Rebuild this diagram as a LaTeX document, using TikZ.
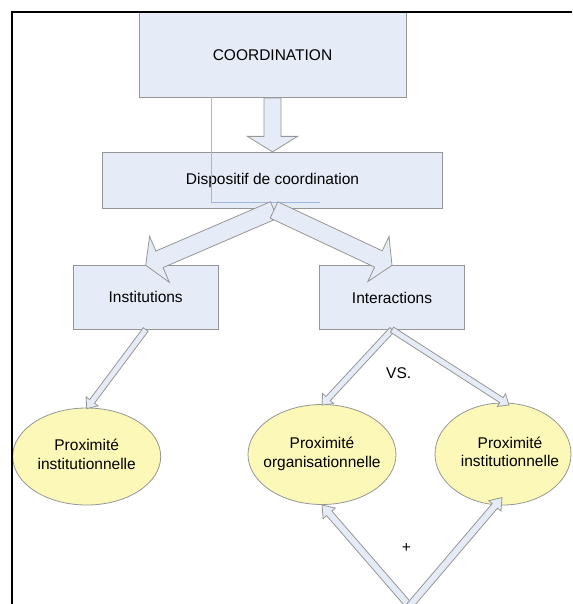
\documentclass[tikz,border=0pt]{standalone}
\usepackage{fontspec}
\setmainfont{Liberation Sans}
\usetikzlibrary{calc,shapes.geometric}
\definecolor{boxfill}{RGB}{230,236,247}
\definecolor{boxline}{RGB}{150,150,150}
\definecolor{ellfill}{RGB}{251,248,184}
\definecolor{thinblue}{RGB}{160,182,226}
% block arrow: #1 tail, #2 tip, #3 shaft half width, #4 head half width, #5 head length
\newcommand{\blockarr}[5]{%
  \coordinate (ba-h) at ($(#2)!#5!(#1)$);
  \path[blockarrow] ($(#1)!#3!90:(#2)$) -- ($(ba-h)!#3!90:(#2)$) -- ($(ba-h)!#4!90:(#2)$) -- (#2)
     -- ($(ba-h)!#4!-90:(#2)$) -- ($(ba-h)!#3!-90:(#2)$) -- ($(#1)!#3!-90:(#2)$) -- cycle;}
\newcommand{\twolines}[3][0pt]{\makebox[0pt]{\hspace*{#1}\begin{tabular}{@{}c@{}}#2\\#3\end{tabular}}}
\begin{document}
\begin{tikzpicture}[x=1pt,y=-1pt,
  font=\fontsize{15.5}{18.5}\selectfont,
  boxnode/.style={rectangle, draw=boxline, fill=boxfill, line width=0.8pt, inner sep=0pt},
  ellnode/.style={ellipse, draw=boxline, fill=ellfill, line width=0.8pt, inner sep=0pt,
                  minimum width=148pt, minimum height=100pt},
  blockarrow/.style={draw=boxline, fill=boxfill, line width=0.8pt, line join=miter},
  textlabel/.style={inner sep=0pt},
  frameline/.style={line width=2.5pt, black}]
\useasboundingbox (0,0) rectangle (572,604);

% boxes
\node[boxnode, minimum width=267pt, minimum height=85.5pt] (coord) at (272.5,54.75) {\raisebox{-2pt}{COORDINATION}};
\node[boxnode, minimum width=340pt, minimum height=56pt] (disp) at (272.5,180.3) {Dispositif de coordination};

% down arrow
\blockarr{coord.south}{disp.north}{8.5pt}{25pt}{15.5pt}

% thin blue line
\coordinate (bl1) at (211.5,97.5);
\coordinate (bl2) at (211.5,202.5);
\coordinate (bl3) at (320,202.5);
\draw[thinblue, line width=0.8pt] (bl1) -- (bl2) -- (bl3);

\node[boxnode, minimum width=145pt, minimum height=63.5pt] (inst) at (145.7,297.4) {Institutions};
\node[boxnode, minimum width=145pt, minimum height=63.5pt] (inter) at (392,297.5) {Interactions};

% diagonal arrows from Dispositif
\coordinate (t1) at (274,210);
\blockarr{t1}{inst.north}{9pt}{25pt}{15pt}
\blockarr{t1}{inter.north}{9pt}{25pt}{15pt}

% ellipses
\node[ellnode, minimum height=97pt] (e1) at (86.7,456.5) {\twolines{Proximité}{institutionnelle}};
\node[ellnode] (e2) at (322,454.5) {\twolines{Proximité}{organisationnelle}};
\node[ellnode, minimum width=136pt, minimum height=102pt] (e3) at (503,454) {\twolines[14pt]{Proximité}{institutionnelle}};

% thin arrows
\coordinate (e1tip) at ($(e1.north)+(0,1)$);
\coordinate (e2tip) at ($(e2.north)+(0,1)$);
\coordinate (e3tip) at (509,405);
\blockarr{inst.south}{e1tip}{3pt}{7.5pt}{9pt}
\blockarr{inter.south}{e2tip}{3pt}{7.5pt}{9pt}
\blockarr{inter.south}{e3tip}{3pt}{7.5pt}{9pt}

% bottom arrows
\coordinate (apex) at (409.5,606);
\coordinate (e2btip) at (322,505);
\coordinate (e3btip) at (502,497.5);
\blockarr{apex}{e2btip}{3.5pt}{8pt}{11pt}
\blockarr{apex}{e3btip}{3.5pt}{8pt}{11pt}

% labels
\node[textlabel] (vs) at (398.7,373) {VS.};
\node[textlabel] (plus) at (406.5,548.3) {+};

% frame
\coordinate (fr1) at (12,605);
\coordinate (fr2) at (12,12);
\coordinate (fr3) at (572,12);
\draw[frameline] (fr1) -- (fr2) -- (fr3);
\end{tikzpicture}
\end{document}
